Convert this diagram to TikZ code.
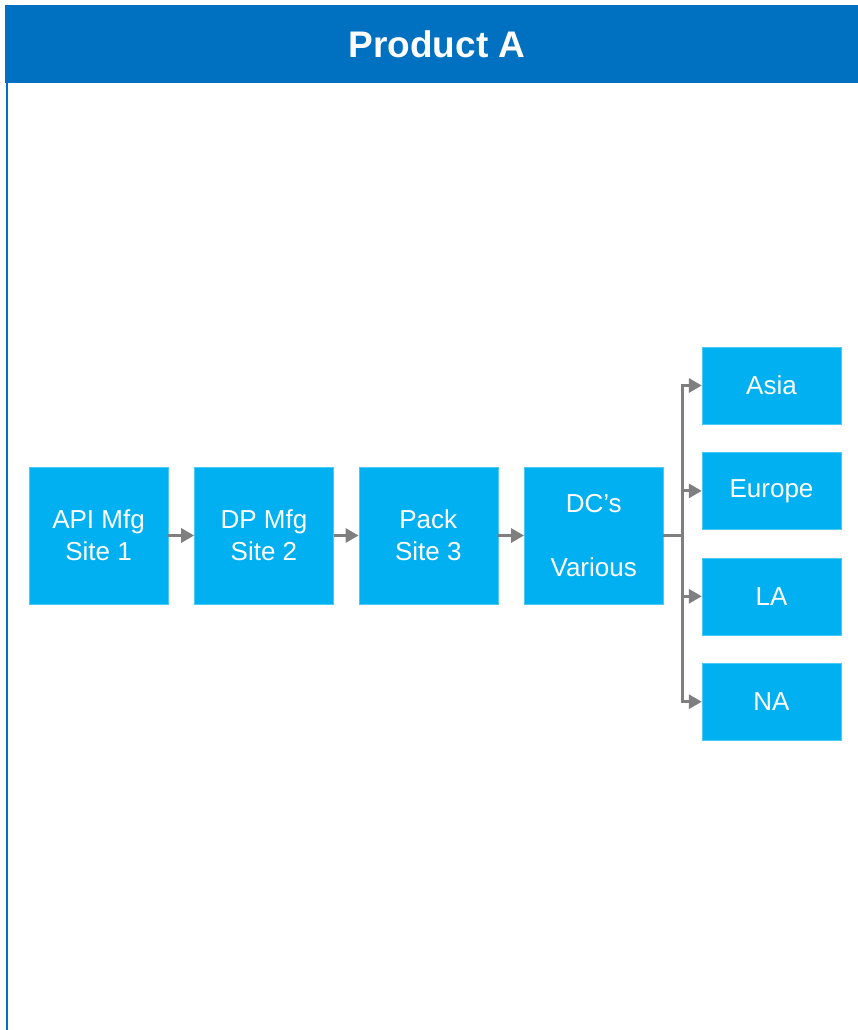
\documentclass[tikz,border=0pt]{standalone}
\usepackage{fontspec}
\setmainfont{Liberation Sans}
\usetikzlibrary{arrows.meta, positioning}
\definecolor{headblue}{RGB}{0,112,192}
\definecolor{boxblue}{RGB}{0,176,240}
\definecolor{linegray}{RGB}{127,127,127}

\begin{document}
\begin{tikzpicture}[x=1pt, y=-1pt,
    site/.style={fill=boxblue, draw=boxblue!70!white, minimum width=139pt,
      minimum height=137pt, inner sep=0pt, text=white, align=center,
      font=\fontsize{26}{32}\selectfont},
    region/.style={site, minimum height=77pt},
    flow/.style={draw=linegray, line width=3pt, -{Triangle[length=13pt, width=14pt]}}]
  \useasboundingbox (0,0) rectangle (858,1030);
  \fill[white] (0,0) rectangle (858,1030);
  % header and frame
  \fill[headblue] (5,5) rectangle (858,83);
  \node[text=white, font=\fontsize{37}{44}\selectfont\bfseries] (title) at (437,44) {Product A};
  \draw[headblue, line width=2pt] (7,83) -- (7,1030);
  % chain
  \node[site] (api) at (98.5,535.5) {API Mfg\\Site 1};
  \node[site, right=26pt of api] (dp) {DP Mfg\\Site 2};
  \node[site, right=25pt of dp] (pack) {Pack\\Site 3};
  \node[site, right=26pt of pack] (dc) {DC’s\\[32pt]Various};
  % regions
  \node[region] (asia) at (771.5,385.5) {Asia};
  \node[region, below=28pt of asia] (europe) {Europe};
  \node[region, below=28pt of europe] (la) {LA};
  \node[region, below=28pt of la] (na) {NA};
  \draw[flow] (api) -- (dp);
  \draw[flow] (dp) -- (pack);
  \draw[flow] (pack) -- (dc);
  \coordinate[right=19pt of dc.east] (split);
  \draw[linegray, line width=3pt] (dc.east) -- (split);
  \foreach \r in {asia, europe, la, na}
    \draw[flow] (split) |- (\r.west);
\end{tikzpicture}
\end{document}
